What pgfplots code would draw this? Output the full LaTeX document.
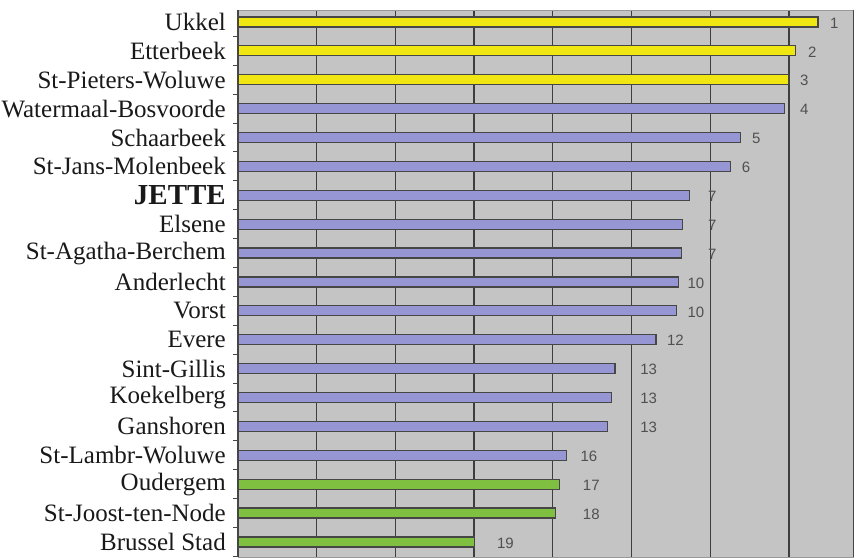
\documentclass[border=0pt]{standalone}
\usepackage{fontspec}
\setmainfont{Liberation Serif}
\newfontfamily\numfont{Liberation Sans}
\usepackage{pgfplots}
\usepackage{pgfplotstable}
\pgfplotsset{compat=1.18}

\definecolor{bggray}{RGB}{196,196,196}
\definecolor{gridc}{RGB}{62,62,62}
\definecolor{edgec}{RGB}{70,70,70}
\definecolor{geel}{RGB}{240,231,18}
\definecolor{paars}{RGB}{150,150,212}
\definecolor{groen}{RGB}{128,192,64}
\definecolor{numc}{RGB}{80,80,80}

% y = row (0 = bottom), v = bar length (grid units)
\pgfplotstableread{
y v
18 7.37
17 7.08
16 7.00
}\geeltab
\pgfplotstableread{
y v
15 6.94
14 6.38
13 6.26
12 5.74
11 5.65
10 5.64
9 5.60
8 5.57
7 5.31
6 4.79
5 4.75
4 4.70
3 4.17
}\paarstab
\pgfplotstableread{
y v
2 4.08
1 4.03
0 3.01
}\groentab
% rank labels: lx = left edge of the number
\pgfplotstableread{
y lx r
18 7.52 1
17 7.24 2
16 7.14 3
15 7.14 4
14 6.53 5
13 6.40 6
12 5.97 7
11 5.97 7
10 5.97 7
9 5.71 10
8 5.71 10
7 5.45 12
6 5.11 13
5 5.11 13
4 5.11 13
3 4.35 16
2 4.38 17
1 4.38 18
0 3.29 19
}\rangtab

\begin{document}
\begin{tikzpicture}
\begin{axis}[
    at={(0,0)}, anchor=south west,
    scale only axis,
    width=616pt, height=547pt,
    xmin=0, xmax=7.827,
    ymin=-0.52, ymax=18.415,
    axis background/.style={fill=bggray},
    separate axis lines,
    x axis line style={draw=gray!80, line width=0.8pt},
    y axis line style={draw=edgec, line width=1.3pt},
    xtick={1,...,7}, xticklabels={},
    xmajorgrids,
    major grid style={draw=gridc, line width=1.3pt},
    ytick={0,...,18},
    yticklabels={Brussel Stad, St-Joost-ten-Node, Oudergem, St-Lambr-Woluwe,
      Ganshoren, Koekelberg, Sint-Gillis, Evere, Vorst, Anderlecht,
      St-Agatha-Berchem, Elsene, {\fontsize{29}{29}\selectfont\bfseries JETTE},
      St-Jans-Molenbeek, Schaarbeek, Watermaal-Bosvoorde, St-Pieters-Woluwe,
      Etterbeek, Ukkel},
    yticklabel style={font=\fontsize{25}{25}\selectfont, inner sep=0pt, xshift=-12pt, text=black!90},
    minor ytick={-0.5,0.5,...,18.5},
    major tick length=0pt,
    minor tick length=5pt,
    tick align=outside,
    minor tick style={draw=edgec, line width=1pt},
    clip=false,
  ]
  \addplot[xbar, bar width=10pt, bar shift=0pt, fill=geel, draw=edgec, line width=1.2pt]
    table[x=v, y=y] {\geeltab};
  \addplot[xbar, bar width=10pt, bar shift=0pt, fill=paars, draw=edgec, line width=1.2pt]
    table[x=v, y=y] {\paarstab};
  \addplot[xbar, bar width=10pt, bar shift=0pt, fill=groen, draw=edgec, line width=1.2pt]
    table[x=v, y=y] {\groentab};
  \addplot[draw=none, mark=none,
    nodes near coords, point meta=explicit symbolic,
    every node near coord/.append style={anchor=west, inner sep=0pt, yshift=-1pt,
      text=numc, font=\numfont\fontsize{15}{15}\selectfont}]
    table[x=lx, y=y, meta=r] {\rangtab};
\end{axis}
\pgfresetboundingbox
\path[use as bounding box] (-238pt,0pt) rectangle (616pt,557pt);
\end{tikzpicture}
\end{document}
